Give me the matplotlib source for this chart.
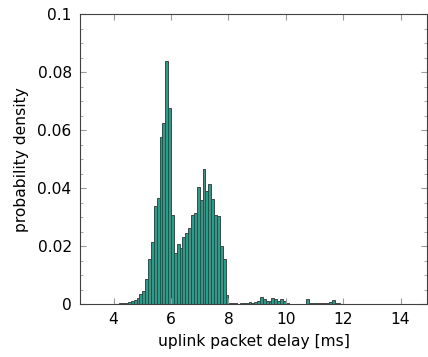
import numpy as np
import matplotlib
matplotlib.use("Agg")
import matplotlib.pyplot as plt
from matplotlib.ticker import FixedLocator, MultipleLocator

# histogram of uplink delay, bins of 0.1 ms starting at 3.8 ms
bin_width = 0.1
bin_left = np.round(np.arange(3.8, 13.95, bin_width), 1)
density = [
    0.0001, 0.0001, 0.0001, 0.0001, 0.0002, 0.0003, 0.0005, 0.0007, 0.0009, 0.0014,  # 3.8 - 4.7
    0.0020, 0.0036, 0.0044, 0.0085, 0.0155, 0.0215, 0.0338, 0.0365, 0.0576, 0.0626,  # 4.8 - 5.7
    0.0840, 0.0675, 0.0307, 0.0177, 0.0206, 0.0192, 0.0230, 0.0246, 0.0261, 0.0307,  # 5.8 - 6.7
    0.0315, 0.0405, 0.0359, 0.0467, 0.0390, 0.0414, 0.0364, 0.0307, 0.0304, 0.0200,  # 6.8 - 7.7
    0.0155, 0.0031, 0.0003, 0.0002, 0.0002, 0.0001, 0.0002, 0.0003, 0.0004, 0.0006,  # 7.8 - 8.7
    0.0005, 0.0007, 0.0012, 0.0024, 0.0018, 0.0010, 0.0010, 0.0020, 0.0018, 0.0011,  # 8.8 - 9.7
    0.0018, 0.0012, 0.0002, 0.0001, 0.0001, 0.0001, 0.0001, 0.0001, 0.0001, 0.0016,  # 9.8 - 10.7
    0.0002, 0.0002, 0.0003, 0.0002, 0.0003, 0.0003, 0.0004, 0.0006, 0.0014, 0.0005,  # 10.8 - 11.7
    0.0002, 0.0001, 0.0001, 0.0001, 0.0001, 0.0001, 0.0001, 0.0001, 0.0001, 0.0001,  # 11.8 - 12.7
    0.0001, 0.0001, 0.0001, 0.0001, 0.0001, 0.0001, 0.0001, 0.0001, 0.0001, 0.0001,  # 12.8 - 13.7
    0.0001, 0.0001,                                                                  # 13.8 - 13.9
]
x_ticks = [4, 6, 8, 10, 12, 14]
y_ticks = [0, 0.02, 0.04, 0.06, 0.08, 0.1]
y_ticklabels = ["0", "0.02", "0.04", "0.06", "0.08", "0.1"]

plt.rcParams["font.family"] = ["DejaVu Sans"]

fig = plt.figure(figsize=(4.28, 3.57), dpi=100)
ax = fig.add_axes([0.187, 0.1485, 0.8107, 0.8115])

ax.bar(bin_left[:len(density)], density, width=bin_width, align="edge",
       color="#22a08c", edgecolor="#454545", linewidth=0.7)

ax.set_xlim(2.83, 14.92)
ax.set_ylim(0, 0.1)
ax.xaxis.set_major_locator(FixedLocator(x_ticks))
ax.set_yticks(y_ticks)
ax.set_yticklabels(y_ticklabels)
ax.yaxis.set_minor_locator(MultipleLocator(0.005))

ax.tick_params(axis="both", which="both", direction="in", color="#999999",
               labelsize=11.2, labelcolor="black")
ax.tick_params(axis="x", which="major", length=4, pad=6, top=True)
ax.tick_params(axis="y", which="major", length=4, pad=6, right=True)
ax.tick_params(axis="y", which="minor", length=2, right=True)

for s in ax.spines.values():
    s.set_color("#404040")
    s.set_linewidth(0.8)

ax.set_xlabel("uplink packet delay [ms]", fontsize=11.2, labelpad=5)
ax.set_ylabel("probability density", fontsize=11.2, labelpad=6)

fig.savefig("out.png", dpi=100)
